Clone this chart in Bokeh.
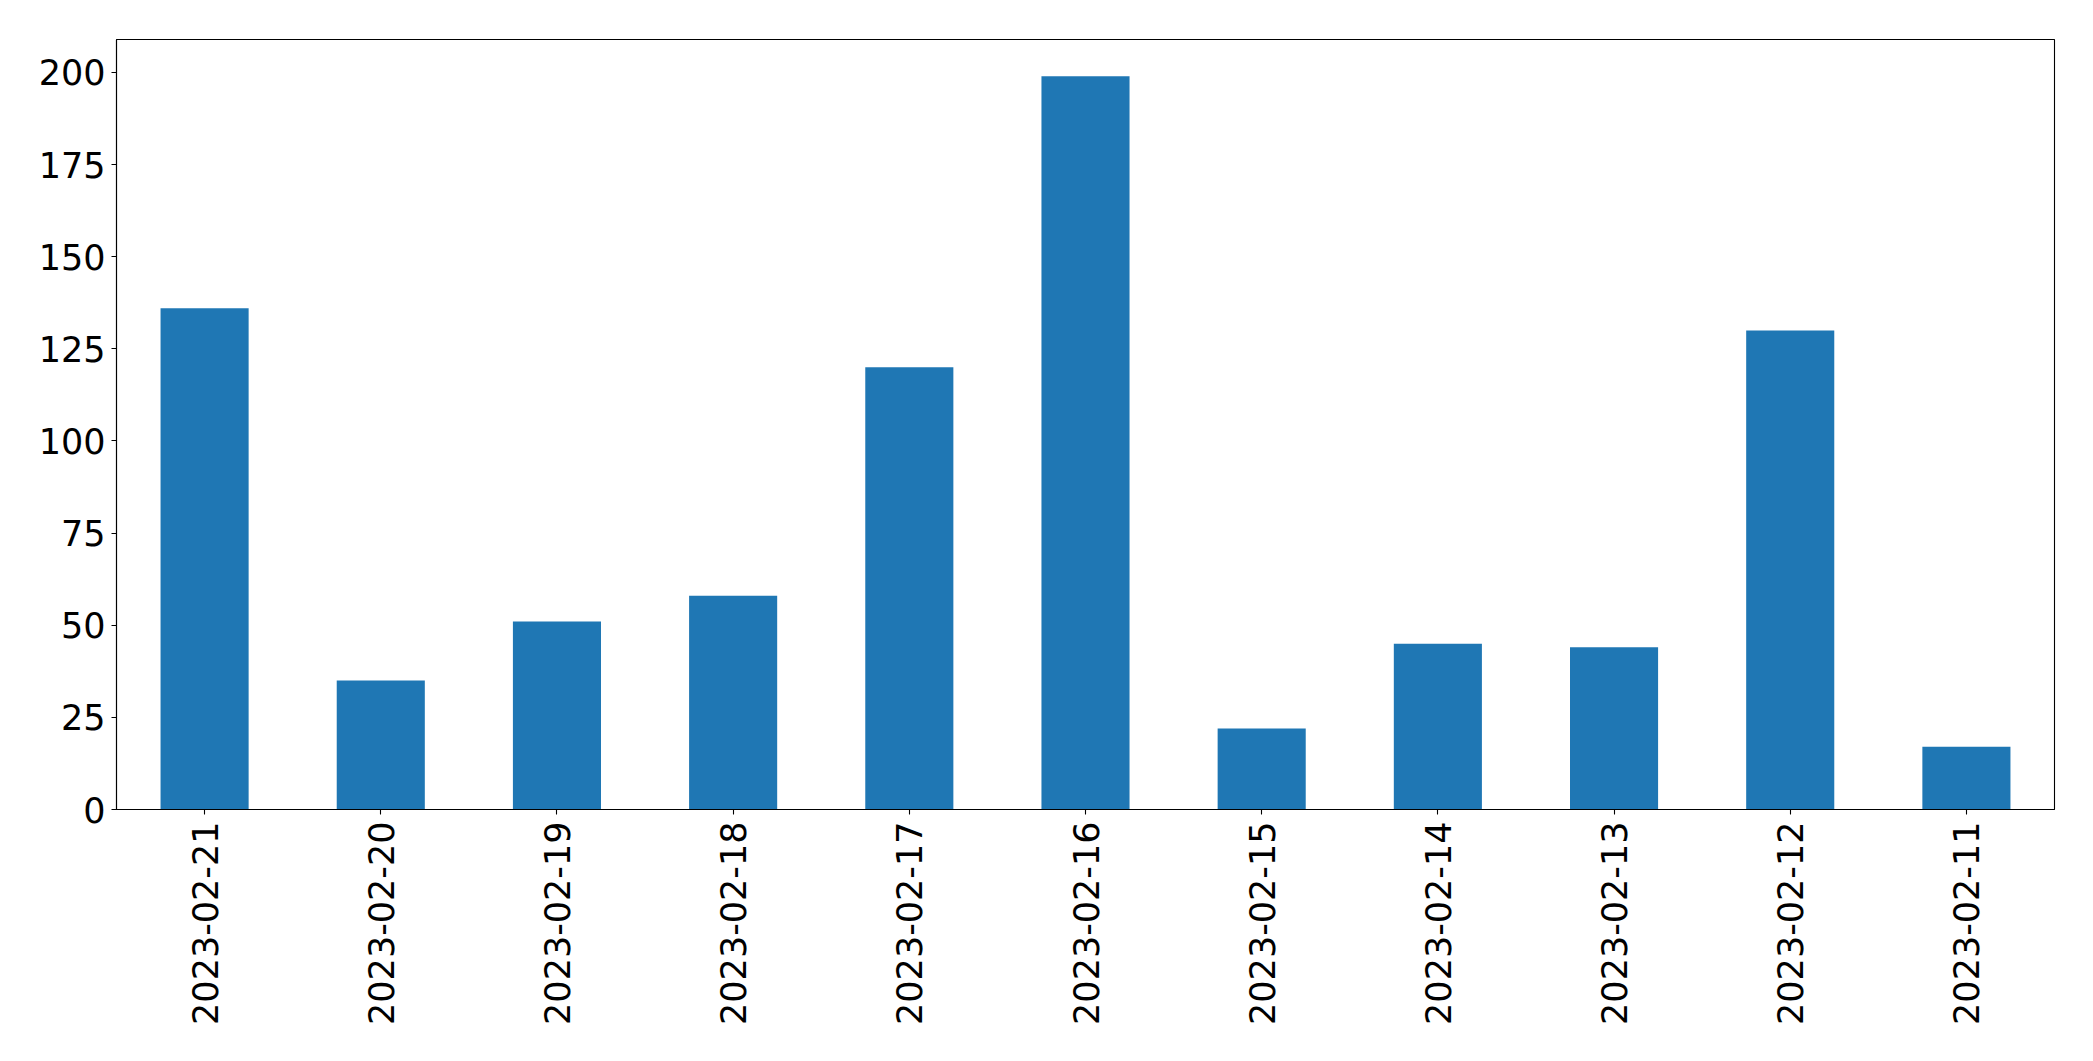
import math
from bokeh.plotting import figure
from bokeh.models import ColumnDataSource, FixedTicker, FactorRange, Range1d
from bokeh.embed import file_html
from bokeh.resources import INLINE

dates = ["2023-02-21", "2023-02-20", "2023-02-19", "2023-02-18", "2023-02-17",
         "2023-02-16", "2023-02-15", "2023-02-14", "2023-02-13", "2023-02-12",
         "2023-02-11"]
counts = [136, 35, 51, 58, 120, 199, 22, 45, 44, 130, 17]
y_ticks = [0, 25, 50, 75, 100, 125, 150, 175, 200]

src = ColumnDataSource(dict(x=dates, top=counts))

p = figure(x_range=FactorRange(*dates, range_padding=0),
           y_range=Range1d(0, max(counts) * 1.05),
           width=2084, height=1053,
           output_backend="svg", toolbar_location=None,
           min_border_left=116, min_border_right=30,
           min_border_top=39, min_border_bottom=244)

p.vbar(x="x", top="top", width=0.5, source=src, fill_color="#1f77b4", line_color=None)

p.xgrid.visible = False
p.ygrid.visible = False
p.outline_line_color = "black"
p.outline_line_width = 1.1
p.background_fill_color = "white"
p.border_fill_color = "white"

p.yaxis.ticker = FixedTicker(ticks=y_ticks)
for ax in (p.xaxis[0], p.yaxis[0]):
    ax.axis_line_color = "black"
    ax.axis_line_width = 1.1
    ax.major_tick_line_color = "black"
    ax.major_tick_line_width = 1.1
    ax.major_tick_in = 0
    ax.major_tick_out = 5
    ax.minor_tick_line_color = None
    ax.major_label_text_font = "DejaVu Sans"
    ax.major_label_text_font_size = "35px"
    ax.major_label_text_color = "black"

p.yaxis.major_label_standoff = 6
p.xaxis.major_label_standoff = 7
p.xaxis.major_label_orientation = math.pi / 2

open("out.html", "w").write(file_html(p, INLINE))
